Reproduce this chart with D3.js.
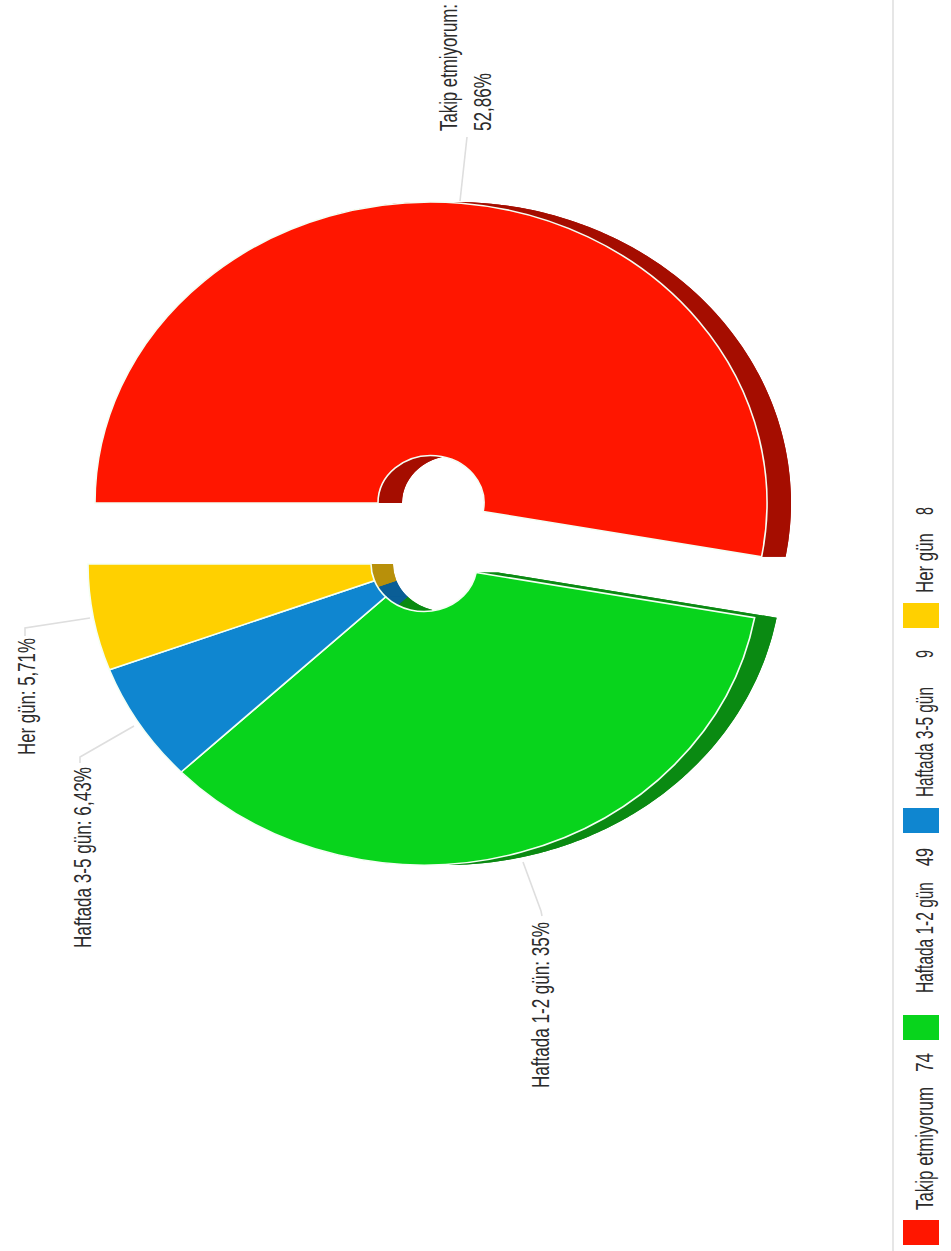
<!DOCTYPE html>
<html>
<head>
<meta charset="utf-8">
<script src="https://cdn.jsdelivr.net/npm/d3@7"></script>
<style>
html,body{margin:0;padding:0;background:#fff;overflow:hidden}
svg{display:block}
text{font-family:"Liberation Sans",Arial,sans-serif;fill:#2b2b2b}
</style>
</head>
<body>
<svg id="chart" width="951" height="1251"></svg>
<script>
// ---- data ----
const categories = ["Takip etmiyorum", "Haftada 1-2 gün", "Haftada 3-5 gün", "Her gün"];
const counts = [74, 49, 9, 8];
const percentLabels = ["52,86%", "35%", "6,43%", "5,71%"];
const faceColors = ["#ff1600", "#08d41c", "#0f86d0", "#ffd000"];
const wallColors = ["#a50d00", "#0a8a12", "#0a5e96", "#b8900a"];

// ---- layout ----
const W = 951, H = 1251;
const svg = d3.select("#chart");
const color = d3.scaleOrdinal(categories, faceColors);
const wall = d3.scaleOrdinal(categories, wallColors);

const R = 336, Ry = 301, r0 = 53;             // outer radius (x), outer radius (y), inner radius (x)
const yScale = Ry / R;
const centres = [[431, 503], [424, 564], [424, 564], [424, 564]];
const depths = [24, 22, 22, 22];

const pie = d3.pie().sort(null).value(d => d.value)
  .startAngle(-Math.PI / 2).endAngle(Math.PI * 1.5);
const slices = pie(categories.map((name, i) => ({ name, value: counts[i], i })));
const arc = d3.arc().innerRadius(r0).outerRadius(R);

const pt = (c, dx, rad, a) => [c[0] + dx + rad * Math.sin(a), c[1] - rad * yScale * Math.cos(a)];
const line = d3.line();
const sweep = (a, b) => d3.range(a, b, 0.01).concat([b]);

const walls = svg.append("g");
const faces = svg.append("g");

slices.forEach(s => {
  const i = s.data.i, c = centres[i], dz = depths[i], col = wall(s.data.name);
  const place = dx => `translate(${c[0] + dx},${c[1]}) scale(1,${yScale})`;
  // extruded copy of the slice
  walls.append("path").attr("d", arc(s)).attr("transform", place(dz)).attr("fill", col);
  // outer and inner wall bands, and the two end faces
  [R, r0].forEach(rad => {
    const fwd = sweep(s.startAngle, s.endAngle).map(a => pt(c, 0, rad, a));
    const back = sweep(s.startAngle, s.endAngle).reverse().map(a => pt(c, dz, rad, a));
    walls.append("path").attr("d", line(fwd.concat(back)) + "Z").attr("fill", col);
  });
  [s.startAngle, s.endAngle].forEach(a => {
    walls.append("path")
      .attr("d", line([pt(c, 0, R, a), pt(c, dz, R, a), pt(c, dz, r0, a), pt(c, 0, r0, a)]) + "Z")
      .attr("fill", col);
  });
});

slices.forEach(s => {
  const c = centres[s.data.i];
  faces.append("path").attr("d", arc(s))
    .attr("transform", `translate(${c[0]},${c[1]}) scale(1,${yScale})`)
    .attr("fill", color(s.data.name))
    .attr("stroke", "#f4fff4")
    .attr("stroke-width", 1.6)
    .attr("vector-effect", "non-scaling-stroke")
    .style("vector-effect", "non-scaling-stroke");
});

// ---- rotated text helper (the whole picture is turned a quarter) ----
const FS = 24;
function vtext(str, x, yStart, yEnd) {
  const t = svg.append("text").attr("font-size", FS).text(str);
  const k = (yStart - yEnd) / t.node().getComputedTextLength();
  t.attr("transform", `translate(${x},${yStart}) rotate(-90) scale(${k},1)`);
}

// ---- callouts ----
const leaderLines = [
  [[467, 137], [460, 201]],
  [[542, 916], [541, 911], [523, 862]],
  [[80, 763], [80, 757], [134, 726]],
  [[25, 636], [25, 628], [90, 618]]
];
leaderLines.forEach(p => {
  svg.append("path").attr("d", line(p)).attr("fill", "none")
    .attr("stroke", "#dedede").attr("stroke-width", 1.6);
});
vtext(categories[0] + ":", 457, 131, 4);
vtext(percentLabels[0], 491, 131, 73);
vtext(`${categories[1]}: ${percentLabels[1]}`, 549, 1088, 922);
vtext(`${categories[2]}: ${percentLabels[2]}`, 91, 948, 767);
vtext(`${categories[3]}: ${percentLabels[3]}`, 35, 755, 638);

// ---- legend ----
svg.append("line").attr("x1", 893).attr("x2", 893).attr("y1", 0).attr("y2", H)
  .attr("stroke", "#e6e6e6").attr("stroke-width", 2);
const legendSwatchY = [1220, 1015, 808, 603];
const legendName = [[1210, 1087], [993, 882], [797, 687], [593, 533]];
const legendCount = [[1072, 1053], [866, 848], [658, 650], [515, 507]];
categories.forEach((name, i) => {
  svg.append("rect").attr("x", 903).attr("y", legendSwatchY[i])
    .attr("width", 36).attr("height", 25).attr("fill", color(name));
  vtext(name, 933, legendName[i][0], legendName[i][1]);
  vtext(String(counts[i]), 933, legendCount[i][0], legendCount[i][1]);
});
</script>
</body>
</html>
